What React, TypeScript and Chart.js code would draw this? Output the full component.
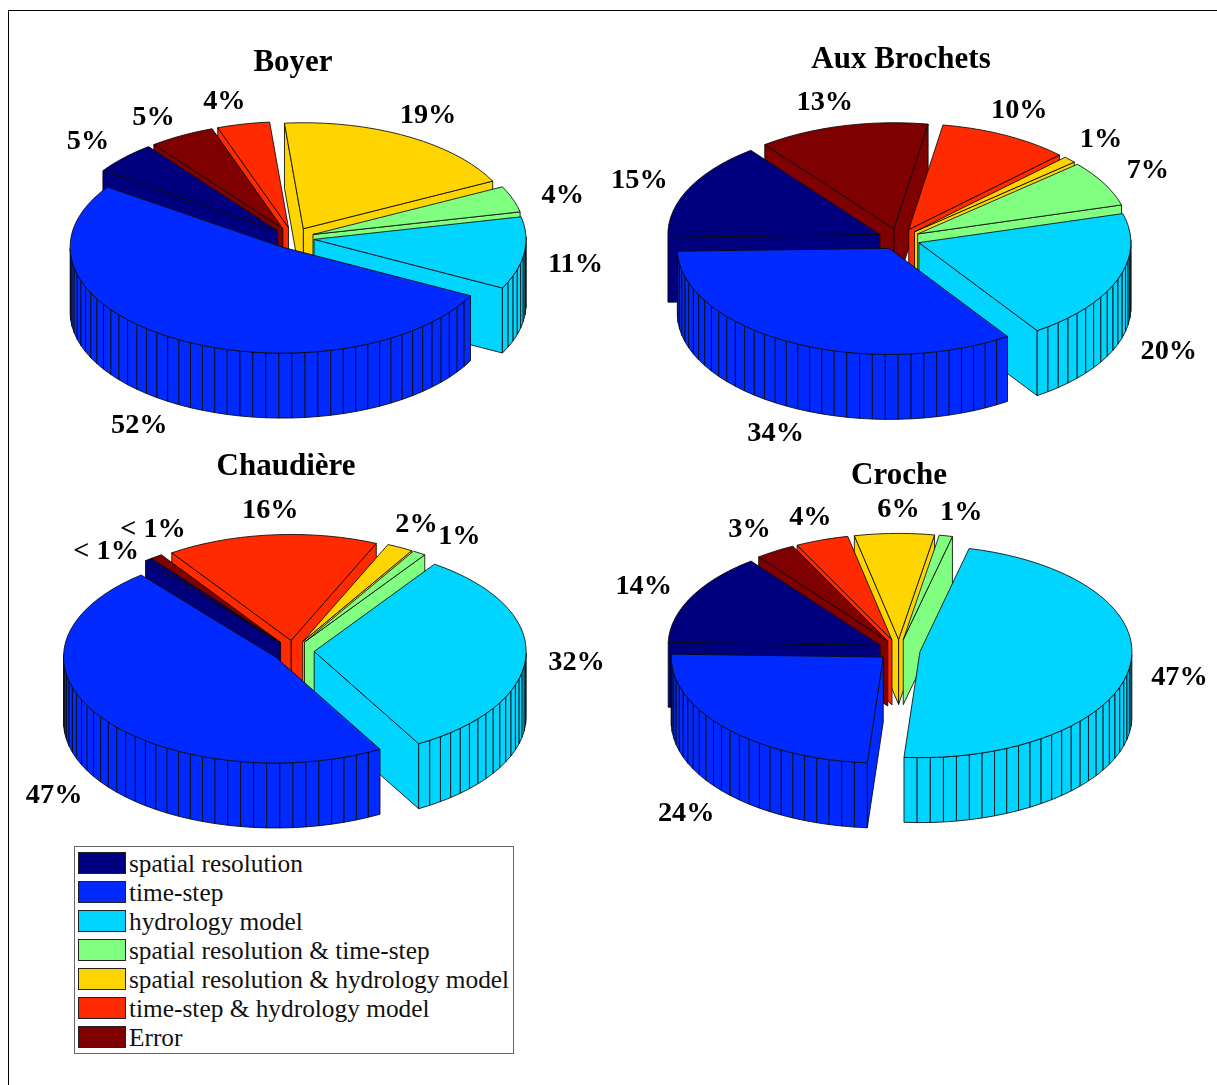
import React, { useEffect, useRef } from "react";
import { Chart, registerables } from "chart.js";

Chart.register(...registerables);

// Factor categories, shared by all four catchments
const categories = [
  "spatial resolution",
  "time-step",
  "hydrology model",
  "spatial resolution & time-step",
  "spatial resolution & hydrology model",
  "time-step & hydrology model",
  "Error",
];
const sliceColors = ["#00007F", "#002AFF", "#00D5FF", "#80FF80", "#FFD500", "#FF2A00", "#7F0000"];

// Share of variance per catchment (%), in category order
const boyerShares = [5, 52, 11, 4, 19, 4, 5];
const auxBrochetsShares = [15, 34, 20, 7, 1, 10, 13];
const chaudiereShares = [0.5, 47, 32, 1, 2, 16, 0.9];
const crocheShares = [14, 24, 47, 1, 6, 4, 3];

// Percent labels sit on a ring round the pie; these shift each one off the ring
const boyerLabelShift = [[-2, -4], [-10, 12], [5, -2], [6, 1], [-1, -5], [-9, -4], [-6, -2]];
const auxBrochetsLabelShift = [[-7, -1], [5, 13], [7, 41], [3, -5], [-3, -8], [-8, -8], [-6, -5]];
const chaudiereLabelShift = [[-13, 6], [-8, 28], [4, 1], [15, -1], [-5, -7], [3, -6], [24, -12]];
const crocheLabelShift = [[-6, -3], [-5, 26], [4, -5], [6, -5], [5, -5], [4, -5], [-1, -6]];

// Projection of the extruded pie
const RADIUS = 212;
const MARGIN = 130;
const SQUASH = 0.5; // vertical foreshortening of the top face
const LABEL_SQUASH = 0.49;
const LABEL_DROP = 2;
const DEPTH = 65; // projected height of the prism walls
const EXPLODE = 0.1; // slice displacement, fraction of the radius
const LABEL_RING = 1.32;
const FIRST_SLICE_ROTATION = 217.5; // Chart.js degrees: 127.5° counter-clockwise from east
const MAX_FACETS = 100;

const panels = [
  { title: "Boyer", shares: boyerShares, shift: boyerLabelShift, cx: 293, cy: 238, titleX: 293, titleY: 63 },
  { title: "Aux Brochets", shares: auxBrochetsShares, shift: auxBrochetsLabelShift, cx: 899, cy: 239, titleX: 901, titleY: 60 },
  { title: "Chaudière", shares: chaudiereShares, shift: chaudiereLabelShift, cx: 293, cy: 651, titleX: 286, titleY: 467 },
  { title: "Croche", shares: crocheShares, shift: crocheLabelShift, cx: 899, cy: 650, titleX: 899, titleY: 476 },
];

const percentText = (v: number) => (v < 1 ? "< 1%" : `${v}%`);

// Replaces the flat arcs with exploded prisms built from the arc elements' own angles.
// Canvas angles are mirrored vertically so the slices run counter-clockwise on screen.
const prismPiePlugin = {
  id: "prismPie",
  beforeDatasetsDraw(chart: any, _args: any, opts: any) {
    const { ctx } = chart;
    const arcs: any[] = chart.getDatasetMeta(0).data;
    const r = arcs[0].outerRadius;
    const cx = arcs[0].x;
    const cy = arcs[0].y;
    const px = (ox: number, a: number, rad: number) => ox + rad * Math.cos(a);
    const py = (oy: number, a: number, rad: number) => oy - SQUASH * rad * Math.sin(a);

    const slices = arcs.map((arc, i) => {
      const mid = (arc.startAngle + arc.endAngle) / 2;
      return {
        index: i,
        mid,
        start: arc.startAngle,
        end: arc.endAngle,
        color: sliceColors[i],
        ox: px(cx, mid, r * EXPLODE),
        oy: py(cy, mid, r * EXPLODE),
        facets: Math.max(1, Math.ceil((MAX_FACETS * (arc.endAngle - arc.startAngle)) / (2 * Math.PI))),
      };
    });

    ctx.save();
    ctx.lineWidth = 0.85;
    ctx.lineJoin = "round";
    ctx.strokeStyle = "#0a0a0a";

    const face = (pts: number[][], color: string) => {
      ctx.beginPath();
      pts.forEach(([x, y], k) => (k ? ctx.lineTo(x, y) : ctx.moveTo(x, y)));
      ctx.closePath();
      ctx.fillStyle = color;
      ctx.fill();
      ctx.stroke();
    };

    // Painter's order: slices pointing away from the viewer first
    [...slices]
      .sort((p, q) => Math.sin(q.mid) - Math.sin(p.mid))
      .forEach((s) => {
        const step = (s.end - s.start) / s.facets;
        const rim = Array.from({ length: s.facets + 1 }, (_, k) => s.start + k * step);
        const radial = (a: number) => [
          [s.ox, s.oy],
          [px(s.ox, a, r), py(s.oy, a, r)],
          [px(s.ox, a, r), py(s.oy, a, r) + DEPTH],
          [s.ox, s.oy + DEPTH],
        ];
        // The two cut faces, only when they look towards the viewer
        if (Math.sin(s.start - Math.PI / 2) < 0) face(radial(s.start), s.color);
        if (Math.sin(s.end + Math.PI / 2) < 0) face(radial(s.end), s.color);
        // Outer wall, one quad per facet
        for (let k = 0; k < s.facets; k++) {
          const a0 = rim[k];
          const a1 = rim[k + 1];
          if (Math.sin((a0 + a1) / 2) >= 0) continue;
          face(
            [
              [px(s.ox, a0, r), py(s.oy, a0, r)],
              [px(s.ox, a1, r), py(s.oy, a1, r)],
              [px(s.ox, a1, r), py(s.oy, a1, r) + DEPTH],
              [px(s.ox, a0, r), py(s.oy, a0, r) + DEPTH],
            ],
            s.color
          );
        }
        // Top face
        face([[s.ox, s.oy], ...rim.map((a) => [px(s.ox, a, r), py(s.oy, a, r)])], s.color);
      });

    // Percent labels
    ctx.fillStyle = "#000";
    ctx.textAlign = "center";
    ctx.textBaseline = "middle";
    ctx.font = 'bold 28.3px "Liberation Serif"';
    slices.forEach((s) => {
      const sin = Math.sin(s.mid);
      const lx = cx + r * LABEL_RING * Math.cos(s.mid) + opts.shift[s.index][0];
      const ly =
        cy - LABEL_SQUASH * r * LABEL_RING * sin + (sin < 0 ? -sin * DEPTH : 0) + opts.shift[s.index][1] + LABEL_DROP;
      ctx.fillText(percentText(opts.shares[s.index]), lx, ly);
    });

    // Panel title
    ctx.font = 'bold 31px "Liberation Serif"';
    ctx.fillText(opts.title, cx + opts.titleDx, cy + opts.titleDy);
    ctx.restore();
    return false;
  },
};

function PiePanel({ panel }: { panel: (typeof panels)[number] }) {
  const ref = useRef<HTMLCanvasElement | null>(null);
  const half = RADIUS + MARGIN;

  useEffect(() => {
    const chart = new Chart(ref.current as HTMLCanvasElement, {
      type: "pie",
      data: {
        labels: categories,
        datasets: [{ data: panel.shares, backgroundColor: sliceColors, borderWidth: 0 }],
      },
      plugins: [prismPiePlugin],
      options: {
        animation: false,
        responsive: false,
        events: [],
        rotation: FIRST_SLICE_ROTATION,
        layout: { padding: MARGIN },
        plugins: {
          legend: { display: false },
          tooltip: { enabled: false },
          prismPie: {
            shares: panel.shares,
            shift: panel.shift,
            title: panel.title,
            titleDx: panel.titleX - panel.cx,
            titleDy: panel.titleY - panel.cy,
          },
        } as any,
      },
    });
    return () => chart.destroy();
  }, [panel]);

  return (
    <canvas
      ref={ref}
      width={half * 2}
      height={half * 2}
      style={{ position: "absolute", left: panel.cx - half, top: panel.cy - half, width: half * 2, height: half * 2 }}
    />
  );
}

export default function App() {
  return (
    <div style={{ position: "absolute", left: 0, top: 0, width: 1217, height: 1085, overflow: "hidden", background: "#fff" }}>
      <div style={{ position: "absolute", left: 8, top: 10, right: 0, bottom: 0, borderLeft: "1px solid #000", borderTop: "1px solid #000" }} />
      {panels.map((p) => (
        <PiePanel key={p.title} panel={p} />
      ))}
      <div style={{ position: "absolute", left: 74, top: 846, width: 438, height: 206, border: "1px solid #666", background: "#fff" }}>
        {categories.map((name, i) => (
          <div key={name} style={{ position: "absolute", left: 3, top: 5 + i * 29, height: 22, display: "flex", alignItems: "center" }}>
            <span style={{ display: "block", width: 46, height: 20, background: sliceColors[i], border: "1px solid #222" }} />
            <span style={{ marginLeft: 3, font: '25.35px "Liberation Serif"', color: "#111", whiteSpace: "nowrap", lineHeight: "22px" }}>{name}</span>
          </div>
        ))}
      </div>
    </div>
  );
}
